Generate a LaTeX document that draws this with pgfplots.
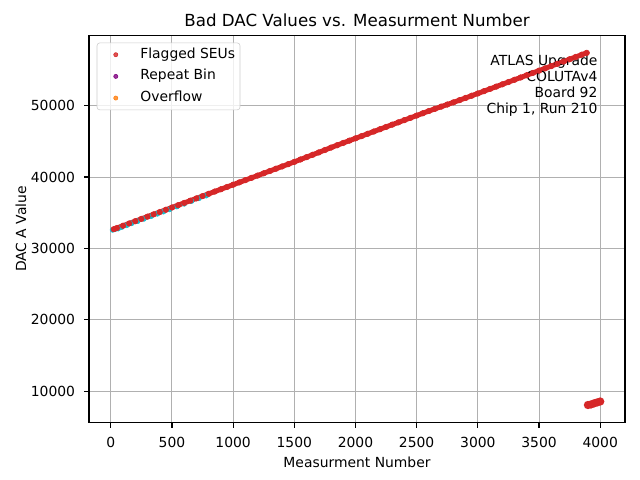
\documentclass[border=0pt]{standalone}
\usepackage{fontspec}
\setmainfont{DejaVu Sans}
\usepackage{pgfplots}
\usepackage{pgfplotstable}
\pgfplotsset{compat=1.18}
\definecolor{tabred}{HTML}{D62728}
\definecolor{tabpurple}{HTML}{800080}
\definecolor{taborange}{HTML}{FF7F0E}
\definecolor{tabcyan}{HTML}{17BECF}
\definecolor{gridgray}{HTML}{B0B0B0}
\definecolor{legframe}{HTML}{CCCCCC}

\pgfplotstableread{
x y
25 32700
50 32860
100 33179
150 33499
200 33818
250 34138
300 34457
350 34777
400 35096
450 35416
500 35735
550 36055
600 36374
650 36694
700 37013
750 37333
800 37652
850 37972
900 38291
950 38611
1000 38930
1050 39250
1100 39569
1150 39889
1200 40208
1250 40528
1300 40847
1350 41167
1400 41486
1450 41806
1500 42125
1550 42460
1600 42790
1650 43120
1700 43450
1750 43790
1800 44130
1850 44460
1900 44780
1950 45100
2000 45420
2050 45740
2100 46060
2150 46380
2200 46700
2250 47020
2300 47340
2350 47660
2400 47980
2450 48296
2500 48615
2550 48935
2600 49254
2650 49560
2700 49860
2750 50160
2800 50460
2850 50770
2900 51080
2950 51391
3000 51710
3050 52030
3100 52349
3150 52669
3200 52988
3250 53308
3300 53627
3350 53947
3400 54266
3450 54586
3500 54905
3550 55225
3600 55544
3650 55864
3700 56183
3750 56503
3800 56822
3850 57142
3890 57397
}\redline

\pgfplotstableread{
x y
15 32600
35 32700
60 32780
90 33000
130 33250
170 33520
220 33820
270 34140
330 34520
380 34850
430 35150
480 35480
540 35870
600 36250
660 36640
720 37020
780 37400
}\cyanline

\pgfplotstableread{
x y
3900 8070
3925 8150
3950 8300
3975 8430
4000 8560
}\cluster

\begin{document}
\begin{tikzpicture}
\path[use as bounding box, fill=white] (-64.1pt,-41.3pt) rectangle (396.7pt,304.3pt);
\begin{axis}[
  at={(0pt,0pt)}, anchor=south west,
  scale only axis,
  width=385.92pt, height=278.9pt,
  xmin=-178, xmax=4203,
  ymin=5600, ymax=59860,
  xtick={0,500,...,4000},
  ytick={10000,20000,30000,40000,50000},
  scaled ticks=false,
  /pgf/number format/assume math mode=true,
  /pgf/number format/.cd, 1000 sep={}, /pgfplots/.cd,
  tick label style={font=\fontsize{10}{12}\selectfont, color=black},
  xticklabel style={yshift=-3.5pt},
  yticklabel style={xshift=-3pt},
  tick align=outside,
  major tick length=3.5pt,
  every tick/.style={black, line width=0.8pt},
  xtick pos=bottom, ytick pos=left,
  axis line style={black, line width=0.8pt},
  grid=major,
  major grid style={gridgray, line width=0.72pt},
  title={Bad DAC Values vs. Measurment Number},
  title style={font=\fontsize{12}{14.4}\selectfont, at={(axis description cs:0.5,1)}, anchor=base, inner sep=0pt},
  xlabel={Measurment Number},
  xlabel style={font=\fontsize{10}{12}\selectfont, at={(axis description cs:0.5,-0.117)}, anchor=base, inner sep=0pt},
  ylabel={DAC A Value},
  ylabel style={font=\fontsize{10}{12}\selectfont, at={(axis description cs:-0.1175,0.5)}, anchor=base, inner sep=0pt},
  legend style={at={(axis description cs:0.0144,0.981)}, anchor=north west,
    draw=legframe, rounded corners=2pt, fill=white, fill opacity=0.8, text opacity=1,
    inner sep=2.5pt, row sep=3.6pt, font=\fontsize{10}{12}\selectfont,
    nodes={inner sep=1pt, text height=7.6pt, text depth=2.4pt}},
  legend cell align=left,
  legend image code/.code={\draw[#1, mark size=1.5pt] plot coordinates {(0.38cm,0cm)}; \path (0cm,0cm) (0.96cm,0cm);},
]
\addplot[only marks, mark=*, mark size=1.8pt, color=tabcyan, forget plot] table[x=x,y=y] {\cyanline};
\addplot[no marks, line width=3.6pt, color=tabred, forget plot] table[x=x,y=y] {\redline};
\addplot[only marks, mark=*, mark size=2pt, color=tabred] table[x=x,y=y] {\redline};
\addlegendentry{Flagged SEUs}
\addlegendimage{only marks, mark=*, color=tabpurple}
\addlegendentry{Repeat Bin}
\addlegendimage{only marks, mark=*, color=taborange}
\addlegendentry{Overflow}
\addplot[mark=*, mark size=1.6pt, line width=2.6pt, color=tabred, forget plot] table[x=x,y=y] {\cluster};
\node[anchor=north east, align=right, inner sep=0pt, font=\fontsize{10}{11.6}\selectfont] at (rel axis cs:0.949,0.95) {ATLAS Upgrade\\COLUTAv4\ \\Board 92\\Chip 1, Run 210};
\end{axis}
\end{tikzpicture}
\end{document}
